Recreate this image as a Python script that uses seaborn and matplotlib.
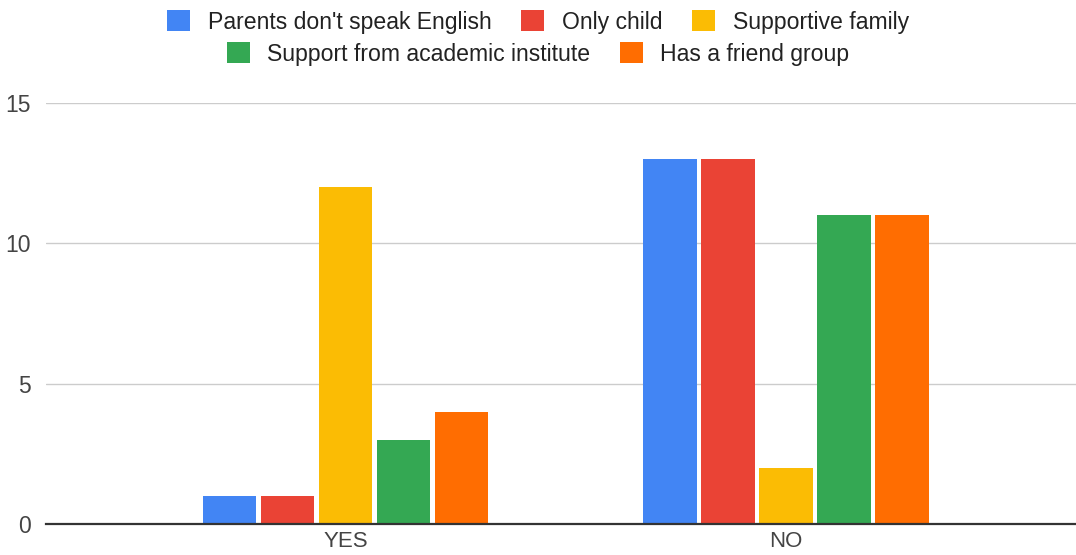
import matplotlib
matplotlib.use("Agg")
import matplotlib.pyplot as plt
import seaborn as sns
import pandas as pd
from matplotlib.patches import Patch

categories = ["YES", "NO"]
series_names = ["Parents don't speak English", "Only child", "Supportive family",
                "Support from academic institute", "Has a friend group"]
parents_no_english = [1, 13]
only_child = [1, 13]
supportive_family = [12, 2]
academic_support = [3, 11]
friend_group = [4, 11]
colors = ["#4285F4", "#EA4335", "#FBBC04", "#34A853", "#FF6D01"]
yticks = [0, 5, 10, 15]

values = [parents_no_english, only_child, supportive_family, academic_support, friend_group]
rows = []
for name, vals in zip(series_names, values):
    for cat, v in zip(categories, vals):
        rows.append({"answer": cat, "series": name, "count": v})
df = pd.DataFrame(rows)

sns.set_theme(style="white")
plt.rcParams['font.family'] = ['Liberation Sans', 'DejaVu Sans']

fig = plt.figure(figsize=(10.76, 5.55), dpi=100)
ax = fig.add_axes([46/1076, 1 - 524/555, 1 - 46/1076, (524 - 103)/555])

sns.barplot(data=df, x="answer", y="count", hue="series", order=categories,
            hue_order=series_names, palette=colors, width=0.658, gap=0.08,
            saturation=1, ax=ax, legend=False, linewidth=0)

ax.set_xlim(-0.680, 1.658)
ax.set_ylim(0, 15)
ax.set_yticks(yticks)
ax.yaxis.grid(True, color="#cccccc", linewidth=1)
ax.set_axisbelow(True)
for s in ["top", "right", "left"]:
    ax.spines[s].set_visible(False)
ax.spines["bottom"].set_color("#333333")
ax.spines["bottom"].set_linewidth(1.6)
ax.spines["bottom"].set_zorder(5)
ax.tick_params(axis="both", length=0, colors="#444444")
ax.tick_params(axis="y", pad=11, labelsize=16.5)
ax.tick_params(axis="x", pad=5, labelsize=16)
ax.set_xlabel("")
ax.set_ylabel("")

handles = [Patch(facecolor=c, edgecolor="none") for c in colors]
common = dict(frameon=False, fontsize=16.6, handlelength=1.0, handleheight=1.0,
              handletextpad=0.75, columnspacing=1.3, labelcolor="#222222",
              borderaxespad=0, borderpad=0)
leg1 = fig.legend(handles[:3], series_names[:3], ncol=3, loc="center",
                  bbox_to_anchor=(0.5, 1 - 22/555), **common)
leg2 = fig.legend(handles[3:], series_names[3:], ncol=2, loc="center",
                  bbox_to_anchor=(0.5, 1 - 54/555), **common)

fig.savefig("out.png", dpi=100)
